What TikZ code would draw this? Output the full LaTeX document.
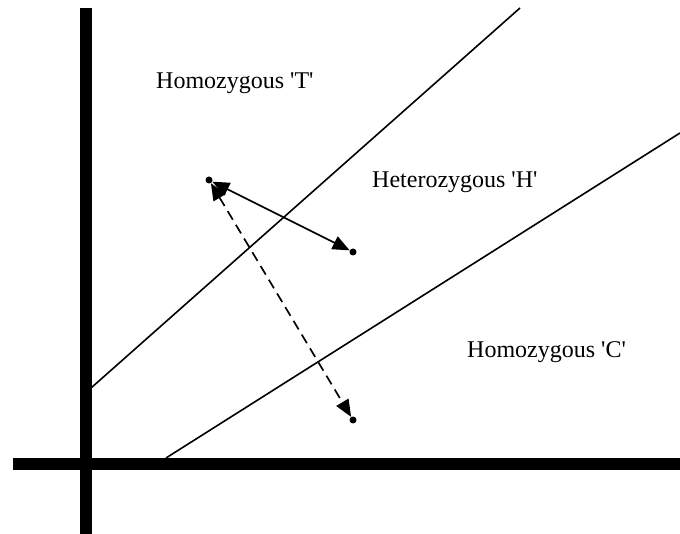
\documentclass[tikz,border=0pt]{standalone}
\usepackage{fontspec}
\setmainfont{Liberation Serif}
\usetikzlibrary{arrows.meta}
\tikzset{
  axis/.style={line width=12pt},
  bound/.style={line width=1.6pt},
  dotnode/.style={circle,fill=black,inner sep=0pt,minimum size=7pt},
  conn/.style={line width=1.7pt,{Triangle[length=17pt,width=14pt]}-{Triangle[length=17pt,width=14pt]}},
  lbl/.style={anchor=base west,inner sep=0pt,font=\fontsize{24}{28}\selectfont}
}
\begin{document}
\begin{tikzpicture}[x=1pt,y=-1pt]
\useasboundingbox (0,0) rectangle (680,534);
% axes
\draw[axis] (85.5,8) -- (85.5,534);
\draw[axis] (13,464) -- (680,464);
% boundaries
\draw[bound] (91,388) -- (520,8);
\draw[bound] (166,458) -- (680,133);
% labels
\node[lbl] (t) at (156,89) {Homozygous \textquotesingle T\textquotesingle};
\node[lbl] (h) at (372,188) {Heterozygous \textquotesingle H\textquotesingle};
\node[lbl] (c) at (467,358) {Homozygous \textquotesingle C\textquotesingle};
% points
\node[dotnode] (p0) at (209,180) {};
\node[dotnode] (p1) at (353,252) {};
\node[dotnode] (p2) at (353,420) {};
\draw[conn] (p0) -- (p1);
\draw[conn,dash pattern=on 10pt off 6pt] (p0) -- (p2);
\end{tikzpicture}
\end{document}
